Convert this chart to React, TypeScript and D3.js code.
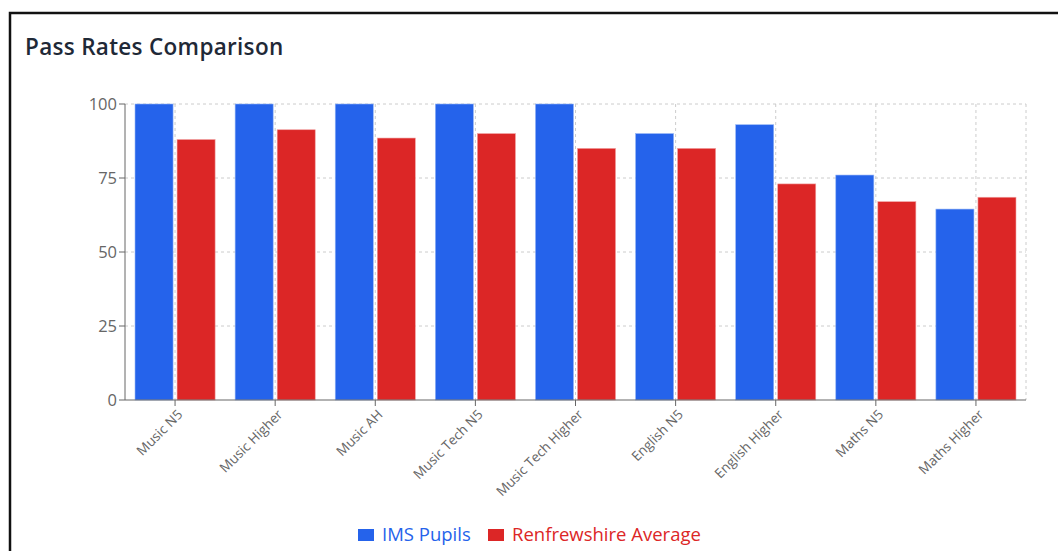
import React from "react";
import * as d3 from "d3";

const categories = [
  "Music N5",
  "Music Higher",
  "Music AH",
  "Music Tech N5",
  "Music Tech Higher",
  "English N5",
  "English Higher",
  "Maths N5",
  "Maths Higher",
];
const imsPupils = [100, 100, 100, 100, 100, 90, 93, 76, 64.5];
const renfrewshireAverage = [88, 91.3, 88.5, 90, 85, 85, 73, 67, 68.5];
const yTicks = [0, 25, 50, 75, 100];
const seriesNames = ["IMS Pupils", "Renfrewshire Average"];
const seriesColors = ["#2563eb", "#dc2626"];

const W = 1058;
const H = 551;
const plot = { left: 125, right: 1026, top: 104, bottom: 400 };
const FONT = "'Open Sans', 'Noto Sans', sans-serif";

export default function App() {
  const x = d3.scaleBand<string>().domain(categories).range([plot.left, plot.right]).paddingInner(0).paddingOuter(0);
  const y = d3.scaleLinear().domain([0, 100]).range([plot.bottom, plot.top]);
  const bw = x.bandwidth();
  const gap = bw * 0.1;
  const barGap = 4;
  const barW = (bw - 2 * gap - barGap) / 2;
  const series = [imsPupils, renfrewshireAverage];

  return (
    <svg width={W} height={H} style={{ position: "absolute", left: 0, top: 0, fontFamily: FONT }}>
      <rect x={0} y={0} width={W} height={H} fill="#fff" />
      <rect x={10} y={13} width={W + 20} height={H + 20} fill="#fff" stroke="#111" strokeWidth={2.5} />
      <text x={25} y={55} fontSize={22.5} fontWeight={600} fill="#1f2937" letterSpacing={0.3}>
        Pass Rates Comparison
      </text>

      {/* grid */}
      <g stroke="#ccc" strokeDasharray="3 3" strokeWidth={1}>
        {yTicks.filter((t) => t > 0).map((t) => (
          <line key={"h" + t} x1={plot.left} x2={plot.right} y1={y(t)} y2={y(t)} />
        ))}
        {categories.map((c) => (
          <line key={"v" + c} x1={x(c)! + bw / 2} x2={x(c)! + bw / 2} y1={plot.top} y2={plot.bottom} />
        ))}
        <line x1={plot.right} x2={plot.right} y1={plot.top} y2={plot.bottom} />
      </g>

      {/* bars */}
      {series.map((vals, si) =>
        vals.map((v, i) => {
          const bx = x(categories[i])! + gap + si * (barW + barGap);
          return (
            <rect
              key={si + "-" + i}
              x={bx}
              y={y(v)}
              width={barW}
              height={y(0) - y(v)}
              fill={seriesColors[si]}
              stroke={si === 0 ? "#93b4f5" : "#f0a0a0"}
              strokeWidth={0.6}
            />
          );
        })
      )}

      {/* y axis */}
      <line x1={plot.left} x2={plot.left} y1={plot.top} y2={plot.bottom} stroke="#666" strokeWidth={1} />
      {yTicks.map((t) => (
        <g key={"yt" + t}>
          <line x1={plot.left - 6} x2={plot.left} y1={y(t)} y2={y(t)} stroke="#666" />
          <text x={plot.left - 8} y={y(t)} dy="0.35em" textAnchor="end" fontSize={16.5} fill="#666">
            {t}
          </text>
        </g>
      ))}

      {/* x axis */}
      <line x1={plot.left} x2={plot.right} y1={plot.bottom} y2={plot.bottom} stroke="#666" strokeWidth={1} />
      {categories.map((c) => {
        const cx = x(c)! + bw / 2;
        return (
          <g key={"xt" + c}>
            <line x1={cx} x2={cx} y1={plot.bottom} y2={plot.bottom + 6} stroke="#666" />
            <text
              transform={`translate(${cx + 5},${plot.bottom + 12}) rotate(-45)`}
              textAnchor="end"
              dy="0.35em"
              fontSize={13.5}
              fill="#666"
            >
              {c}
            </text>
          </g>
        );
      })}

      {/* legend */}
      {(() => {
        const items = [
          { x: 358, name: seriesNames[0], color: seriesColors[0] },
          { x: 488, name: seriesNames[1], color: seriesColors[1] },
        ];
        return items.map((it) => (
          <g key={it.name}>
            <rect x={it.x} y={529} width={16} height={12} fill={it.color} />
            <text x={it.x + 24} y={534.5} dy="0.35em" fontSize={18.5} fill={it.color}>
              {it.name}
            </text>
          </g>
        ));
      })()}
    </svg>
  );
}
